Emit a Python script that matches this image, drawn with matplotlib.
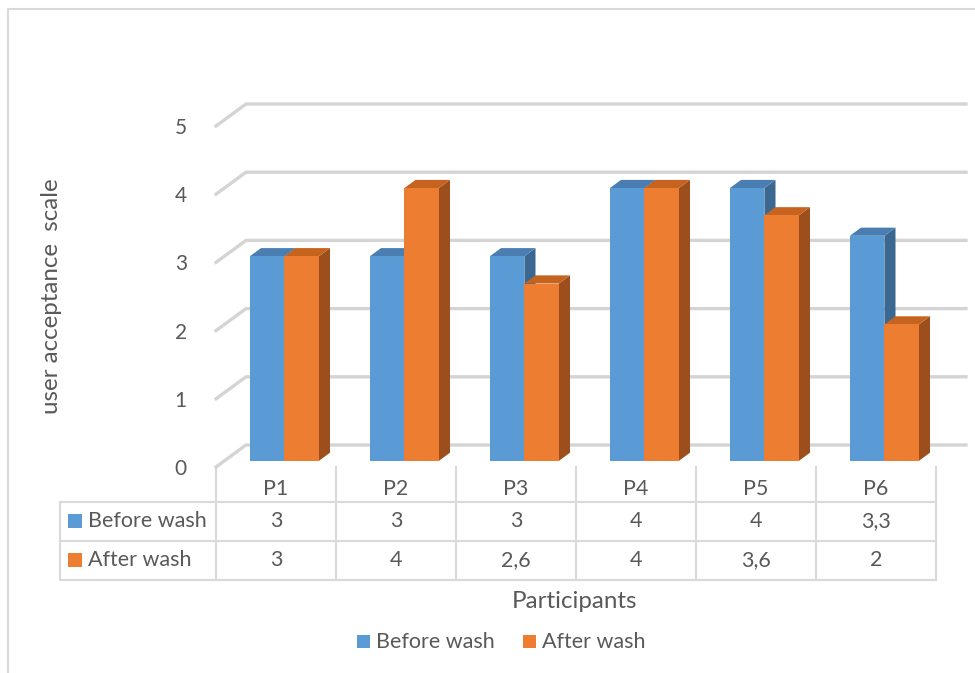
import matplotlib
matplotlib.use("Agg")
import matplotlib.pyplot as plt
from matplotlib.patches import Polygon, Rectangle

plt.rcParams['font.family'] = ['Lato', 'DejaVu Sans']

participants = ["P1", "P2", "P3", "P4", "P5", "P6"]
before_wash = [3, 3, 3, 4, 4, 3.3]
after_wash = [3, 4, 2.6, 4, 3.6, 2]
series_names = ["Before wash", "After wash"]
y_ticks = [0, 1, 2, 3, 4, 5]

BLUE = {'front': '#5B9BD5', 'top': '#4A7EB2', 'side': '#3B6890'}
ORANGE = {'front': '#ED7D31', 'top': '#C6631F', 'side': '#9C4E1C'}
GRID = '#D4D4D4'
TEXT = '#595959'

W, H = 975, 673
fig = plt.figure(figsize=(W / 100, H / 100), dpi=100)

# layout layer in pixel units (frame, table, titles, legend)
lay = fig.add_axes([0, 0, 1, 1])
lay.set_xlim(0, W)
lay.set_ylim(H, 0)
lay.axis('off')

# chart frame (cut off on the right and bottom)
lay.plot([7.5, 7.5, W], [H, 8.5, 8.5], color='#D9D9D9', lw=1.5)

# plotting layer: front plane of the 3D box
x0_px, x1_px = 216, 936
y0_px, y5_px = 467, 126
ax = fig.add_axes([x0_px / W, (H - y0_px) / H, (x1_px - x0_px) / W, (y0_px - y5_px) / H])
ax.patch.set_visible(False)
n = len(participants)
ax.set_xlim(-0.5, n - 0.5)
ax.set_ylim(0, 5)
for s in ax.spines.values():
    s.set_visible(False)
ax.set_xticks([])
ax.set_yticks(y_ticks)
ax.tick_params(axis='y', length=0, pad=21, labelsize=15, labelcolor=TEXT)

# depth of the box in data units
DX = 30 / 120
DY = 22 / (341 / 5)
f0 = 0.28    # bar front position within the depth
bd = 0.37    # bar depth as share of the box depth

for v in y_ticks:
    ax.plot([-0.5, -0.5 + DX, n - 0.5 + DX], [v, v + DY, v + DY],
            color=GRID, lw=2.4, clip_on=False, zorder=1, solid_joinstyle='round')

w = 34.5 / 120
bdx, bdy = bd * DX, bd * DY
base = f0 * DY
for vals, cols, off, z in [(before_wash, BLUE, -w, 3), (after_wash, ORANGE, 0, 4)]:
    xs = [i + f0 * DX + off for i in range(n)]
    ax.bar(xs, vals, width=w, bottom=base, align='edge', color=cols['front'],
           zorder=z + 0.2, clip_on=False, linewidth=0)
    for xl, v in zip(xs, vals):
        top = base + v
        ax.add_patch(Polygon([(xl + w, base), (xl + w + bdx, base + bdy),
                              (xl + w + bdx, top + bdy), (xl + w, top)],
                             closed=True, color=cols['side'], lw=0, zorder=z, clip_on=False))
        ax.add_patch(Polygon([(xl, top), (xl + w, top), (xl + w + bdx, top + bdy),
                              (xl + bdx, top + bdy)],
                             closed=True, color=cols['top'], lw=0, zorder=z + 0.1, clip_on=False))

# data table under the chart
col_w = (x1_px - x0_px) / n
rows_y = [502, 541, 580]
tab_left = 60
lc = '#D9D9D9'
for k in range(n + 1):
    lay.plot([x0_px + k * col_w] * 2, [y0_px, rows_y[-1]], color=lc, lw=1.5)
lay.plot([tab_left, tab_left], [rows_y[0], rows_y[-1]], color=lc, lw=1.5)
for ry in rows_y:
    lay.plot([tab_left, x1_px], [ry, ry], color=lc, lw=1.5)

fs = 15.5
for i, p in enumerate(participants):
    cx = x0_px + (i + 0.5) * col_w
    lay.text(cx, 489, p, ha='center', va='center', fontsize=fs, color=TEXT)
    for vals, ry in [(before_wash, 521), (after_wash, 560)]:
        lay.text(cx, ry, f"{vals[i]:g}".replace('.', ','), ha='center', va='center',
                 fontsize=fs, color=TEXT)

for name, cols, ry in [(series_names[0], BLUE, 521), (series_names[1], ORANGE, 560)]:
    lay.add_patch(Rectangle((68, ry - 7), 14, 14, color=cols['front'], lw=0))
    lay.text(88, ry, name, ha='left', va='center', fontsize=fs, color=TEXT)

# axis titles
lay.text(52, 296, "user acceptance  scale", rotation=90, ha='center', va='center',
         fontsize=17.4, color=TEXT)
lay.text(575, 602, "Participants", ha='center', va='center', fontsize=17.4, color=TEXT)

# legend
for name, cols, kx in [(series_names[0], BLUE, 357), (series_names[1], ORANGE, 523)]:
    lay.add_patch(Rectangle((kx, 635), 13, 13, color=cols['front'], lw=0))
    lay.text(kx + 19, 642, name, ha='left', va='center', fontsize=fs, color=TEXT)

fig.savefig("out.png", dpi=100)
